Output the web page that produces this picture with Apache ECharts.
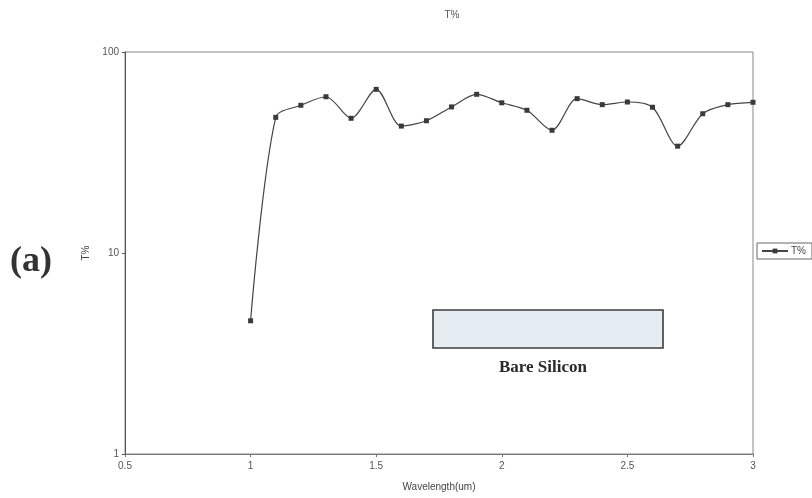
<!DOCTYPE html>
<html>
<head>
<meta charset="utf-8">
<script src="https://cdn.jsdelivr.net/npm/echarts@6/dist/echarts.min.js"></script>
<style>
  html, body { margin: 0; padding: 0; background: #ffffff; }
  #chart { width: 812px; height: 498px; }
</style>
</head>
<body>
<div id="chart"></div>
<script>
// Transmission of bare silicon vs wavelength
const wavelengths = [1.0, 1.1, 1.2, 1.3, 1.4, 1.5, 1.6, 1.7, 1.8, 1.9, 2.0,
                     2.1, 2.2, 2.3, 2.4, 2.5, 2.6, 2.7, 2.8, 2.9, 3.0];
const transmission = [4.6, 47.3, 54.3, 59.9, 46.8, 65.2, 42.8, 45.5, 53.3, 61.6, 55.9,
                      51.3, 40.8, 58.6, 54.7, 56.4, 53.1, 34.0, 49.3, 54.7, 56.2];
const xTicks = ['0.5', '1', '1.5', '2', '2.5', '3'];
const yTicks = ['1', '10', '100'];
const seriesName = 'T%';
const panelLabel = '(a)';
const sampleLabel = 'Bare Silicon';

const points = wavelengths.map((w, i) => [w, transmission[i]]);

const chart = echarts.init(document.getElementById('chart'), null, { renderer: 'canvas' });

const sans = '"Liberation Sans", Arial, sans-serif';
const serif = '"Liberation Serif", "Times New Roman", serif';

chart.setOption({
  backgroundColor: '#ffffff',
  animation: false,
  title: {
    text: 'T%',
    left: 447,
    top: 5,
    textAlign: 'center',
    textStyle: { fontFamily: sans, fontSize: 10, fontWeight: 'normal', color: '#555' }
  },
  grid: {
    left: 125, right: 59, top: 52, bottom: 44,
    show: true, borderColor: '#888', borderWidth: 1, backgroundColor: 'transparent'
  },
  legend: {
    data: [seriesName],
    orient: 'vertical',
    left: 757,
    top: 243,
    padding: [3, 6, 3, 4],
    borderColor: '#666',
    borderWidth: 1,
    itemWidth: 26,
    itemHeight: 6,
    itemGap: 4,
    textStyle: { fontFamily: sans, fontSize: 10, color: '#444', padding: [0, 0, 0, -2] }
  },
  xAxis: {
    type: 'value',
    min: 0.5,
    max: 3,
    interval: 0.5,
    name: 'Wavelength(um)',
    nameLocation: 'middle',
    nameGap: 28,
    nameTextStyle: { fontFamily: sans, fontSize: 10, color: '#444' },
    axisLine: { show: true, lineStyle: { color: '#777', width: 1 } },
    axisTick: { show: true, length: 3, lineStyle: { color: '#777' } },
    axisLabel: {
      fontFamily: sans, fontSize: 10, color: '#555', margin: 7,
      formatter: v => xTicks.find(t => Math.abs(parseFloat(t) - v) < 1e-9) || ''
    },
    splitLine: { show: false }
  },
  yAxis: {
    type: 'log',
    logBase: 10,
    min: 1,
    max: 100,
    name: 'T%',
    nameLocation: 'middle',
    nameGap: 34,
    nameRotate: 90,
    nameTextStyle: { fontFamily: sans, fontSize: 10, color: '#444' },
    axisLine: { show: true, lineStyle: { color: '#555', width: 1 } },
    axisTick: { show: true, length: 3, lineStyle: { color: '#555' } },
    minorTick: { show: false },
    axisLabel: {
      fontFamily: sans, fontSize: 10, color: '#555', margin: 6,
      formatter: v => yTicks.find(t => Math.abs(parseFloat(t) - v) < 1e-6) || ''
    },
    splitLine: { show: false }
  },
  series: [{
    name: seriesName,
    type: 'line',
    data: points,
    smooth: 0.3,
    symbol: 'rect',
    symbolSize: 5,
    itemStyle: { color: '#3a3a3a' },
    lineStyle: { color: '#444', width: 1.2 }
  }],
  graphic: [
    {
      type: 'text',
      left: 10,
      top: 244,
      style: {
        text: panelLabel,
        fontFamily: serif,
        fontSize: 36,
        fontWeight: 'bold',
        fill: '#333'
      }
    },
    {
      type: 'rect',
      shape: { x: 433, y: 310, width: 230, height: 38 },
      style: { fill: '#e6edf2', stroke: '#3c3c3c', lineWidth: 1.6 }
    },
    {
      type: 'text',
      left: 499,
      top: 359,
      style: {
        text: sampleLabel,
        fontFamily: serif,
        fontSize: 17,
        fontWeight: 'bold',
        fill: '#2a2a2a'
      }
    }
  ]
});
</script>
</body>
</html>
